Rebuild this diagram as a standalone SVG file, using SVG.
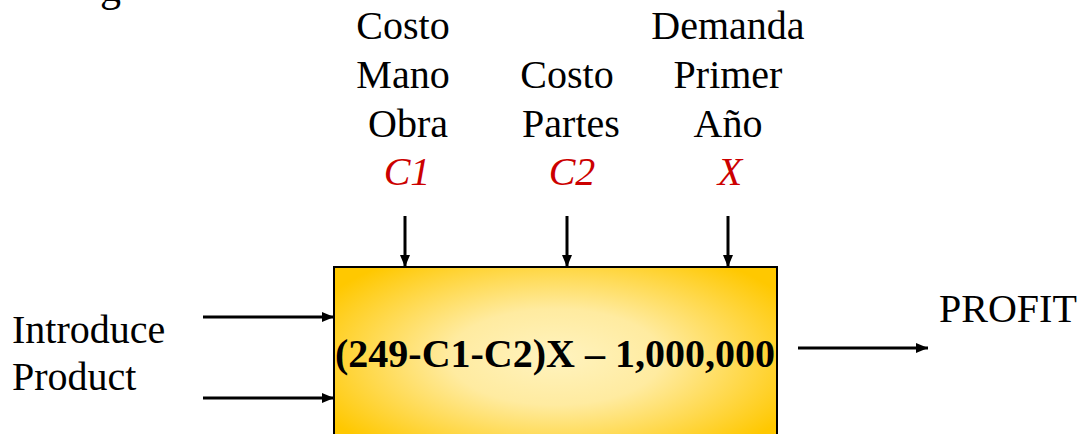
<svg xmlns="http://www.w3.org/2000/svg" width="1080" height="434" viewBox="0 0 1080 434">
<style>
.t{font-family:"Liberation Serif","Times New Roman",serif;font-size:40px;fill:#000}
.v{font-family:"Liberation Serif","Times New Roman",serif;font-size:40px;font-style:italic;fill:#CC0000}
.f{font-family:"Liberation Serif","Times New Roman",serif;font-size:40px;font-weight:bold;fill:#000}
.c{stroke:#000;stroke-width:3;fill:none}
</style>
<defs>
<radialGradient id="g" cx="0.5" cy="0.45" r="0.6">
<stop offset="0" stop-color="#FFF3BF"/>
<stop offset="0.4" stop-color="#FFEBA0"/>
<stop offset="1" stop-color="#FFC800"/>
</radialGradient>
<marker id="a" viewBox="0 0 12 10" refX="12" refY="5" markerWidth="12" markerHeight="10" markerUnits="userSpaceOnUse" orient="auto">
<path d="M0,0 L12,5 L0,10 z" fill="#000"/>
</marker>
</defs>
<text class="t" x="100" y="1" style="font-size:42px">g</text>
<g id="box">
<rect x="334" y="267" width="443" height="200" fill="url(#g)" stroke="#000" stroke-width="2"/>
<text class="f" x="555" y="367" text-anchor="middle">(249-C1-C2)X – 1,000,000</text>
</g>
<g id="c1">
<text class="t" x="403" y="39" text-anchor="middle">Costo</text>
<text class="t" x="403" y="88" text-anchor="middle">Mano</text>
<text class="t" x="408" y="137" text-anchor="middle">Obra</text>
<text class="v" x="407" y="185" text-anchor="middle">C1</text>
</g>
<g id="c2">
<text class="t" x="567" y="88" text-anchor="middle">Costo</text>
<text class="t" x="571" y="137" text-anchor="middle">Partes</text>
<text class="v" x="572" y="185" text-anchor="middle">C2</text>
</g>
<g id="x">
<text class="t" x="728" y="39" text-anchor="middle">Demanda</text>
<text class="t" x="728" y="88" text-anchor="middle">Primer</text>
<text class="t" x="728" y="137" text-anchor="middle">Año</text>
<text class="v" x="730" y="185" text-anchor="middle">X</text>
</g>
<g id="intro">
<text class="t" x="12" y="343">Introduce</text>
<text class="t" x="12" y="390">Product</text>
</g>
<g id="profit">
<text class="t" x="939" y="322">PROFIT</text>
</g>
<g id="connectors">
<line class="c" x1="405" y1="216" x2="405" y2="267" marker-end="url(#a)"/>
<line class="c" x1="567" y1="216" x2="567" y2="267" marker-end="url(#a)"/>
<line class="c" x1="728" y1="216" x2="728" y2="267" marker-end="url(#a)"/>
<line class="c" x1="203" y1="317" x2="334" y2="317" marker-end="url(#a)"/>
<line class="c" x1="203" y1="398" x2="334" y2="398" marker-end="url(#a)"/>
<line class="c" x1="798" y1="348" x2="928" y2="348" marker-end="url(#a)"/>
</g>
</svg>
